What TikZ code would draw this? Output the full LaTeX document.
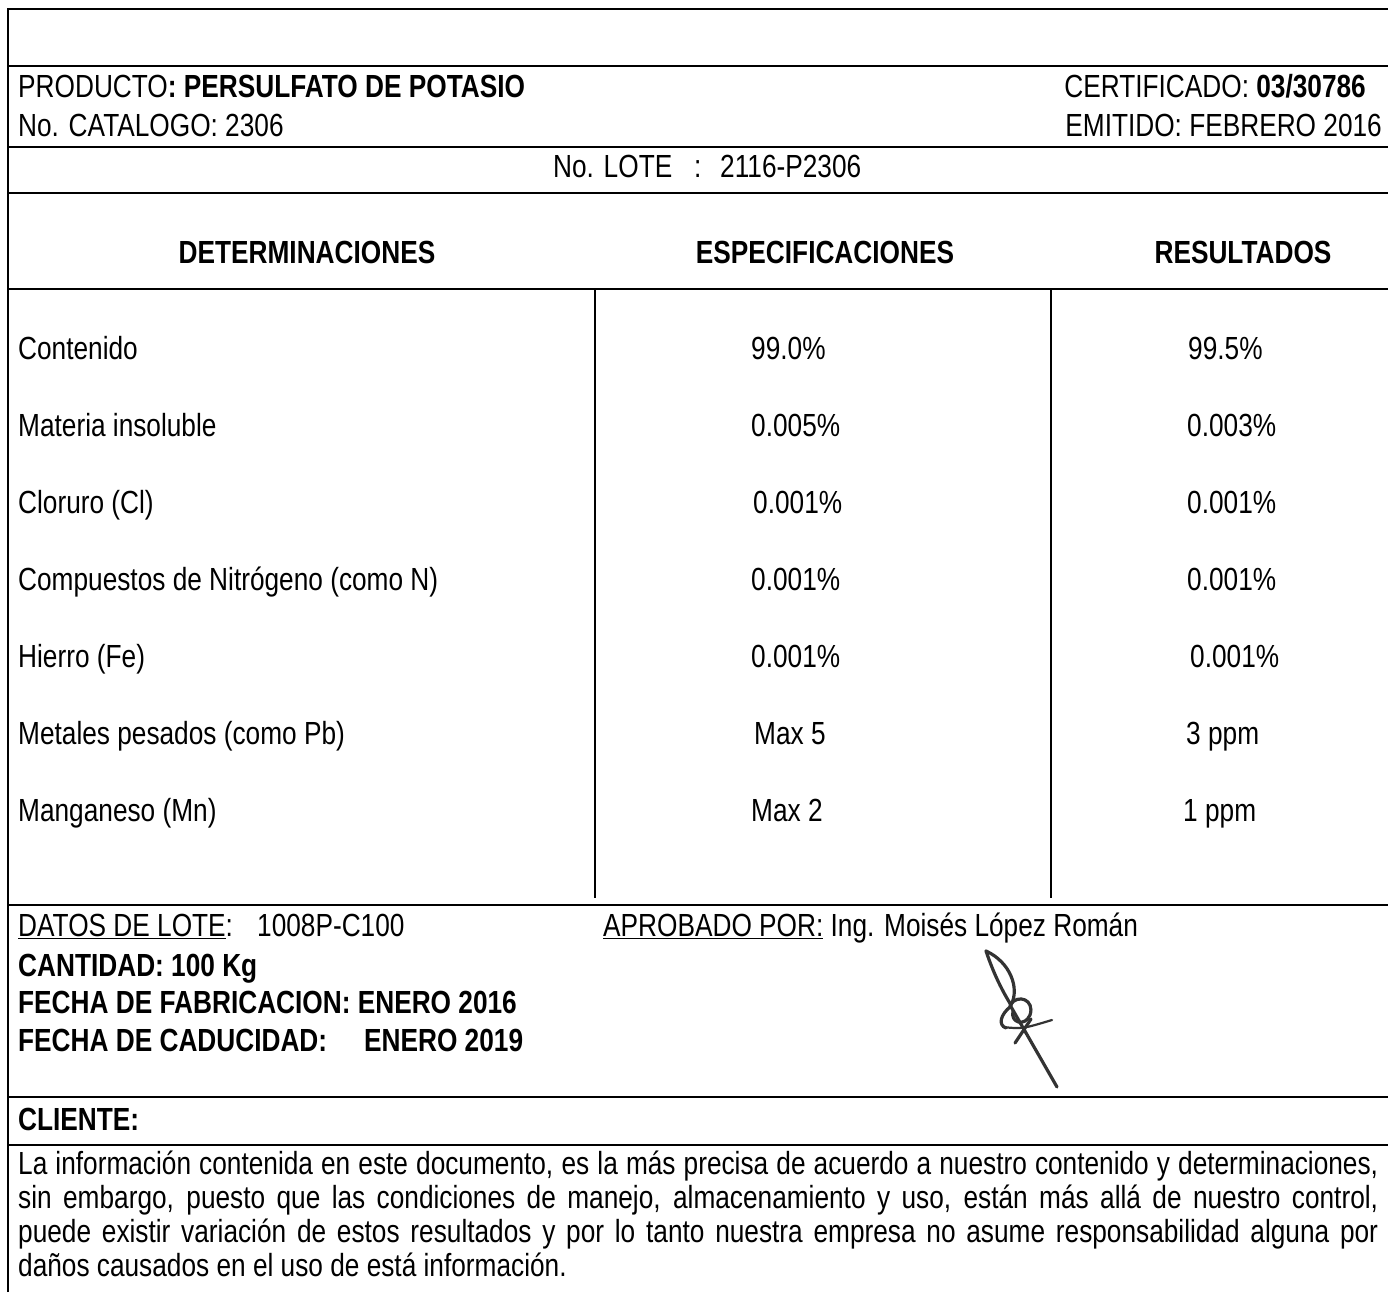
\documentclass[tikz,border=0pt]{standalone}
\usepackage{fontspec}
\setmainfont{Liberation Sans}[FakeStretch=0.82]
\newcommand\docfont{\fontsize{32}{34}\selectfont}
\begin{document}
\begin{tikzpicture}[x=1pt,y=-1pt,
  rule/.style={line width=2.7pt},
  coldiv/.style={line width=1.4pt},
  txt/.style={inner sep=0pt,anchor=base west,font=\docfont},
  txtc/.style={inner sep=0pt,anchor=base,font=\docfont},
  txte/.style={inner sep=0pt,anchor=base east,font=\docfont},
  sig/.style={line width=3.2pt,color=black!80,line cap=round,line join=round}]
\useasboundingbox (0,0) rectangle (1388,1292);
% frame and rules
\draw[rule] (8,1292) -- (8,9) -- (1388,9);
\foreach \yy in {66,147,193,289,905,1097,1145}
  \draw[rule] (7,\yy) -- (1388,\yy);
\draw[coldiv] (595,289) -- (595,898);
\draw[coldiv] (1051,289) -- (1051,898);
% header
\node[txt] (prod) at (18,98) {PRODUCTO\textbf{: PERSULFATO DE POTASIO}};
\node[txte] (cert) at (1366,98) {CERTIFICADO: \textbf{03/30786}};
\node[txt] (cat) at (18,137) {No. CATALOGO: 2306};
\node[txte] (emit) at (1382,137) {EMITIDO: FEBRERO 2016};
\node[txt] (lote) at (553,178) {\makebox[141pt][l]{No. LOTE}\makebox[26pt][l]{:}2116-P2306};
% column heads
\node[txtc] (hdet) at (307,263) {\textbf{DETERMINACIONES}};
\node[txtc] (hesp) at (825,263) {\textbf{ESPECIFICACIONES}};
\node[txtc] (hres) at (1243,263) {\textbf{RESULTADOS}};
% rows
\node[txt] (d1) at (18,359) {Contenido};
\node[txt] (d2) at (18,436) {Materia insoluble};
\node[txt] (d3) at (18,513) {Cloruro (Cl)};
\node[txt] (d4) at (18,590) {Compuestos de Nitrógeno (como N)};
\node[txt] (d5) at (18,667) {Hierro (Fe)};
\node[txt] (d6) at (18,744) {Metales pesados (como Pb)};
\node[txt] (d7) at (18,821) {Manganeso (Mn)};
\node[txt] (e1) at (751,359) {99.0\%};
\node[txt] (e2) at (751,436) {0.005\%};
\node[txt] (e3) at (753,513) {0.001\%};
\node[txt] (e4) at (751,590) {0.001\%};
\node[txt] (e5) at (751,667) {0.001\%};
\node[txt] (e6) at (754,744) {Max 5};
\node[txt] (e7) at (751,821) {Max 2};
\node[txt] (r1) at (1188,359) {99.5\%};
\node[txt] (r2) at (1187,436) {0.003\%};
\node[txt] (r3) at (1187,513) {0.001\%};
\node[txt] (r4) at (1187,590) {0.001\%};
\node[txt] (r5) at (1190,667) {0.001\%};
\node[txt] (r6) at (1186,744) {3 ppm};
\node[txt] (r7) at (1183,821) {1 ppm};
% lot data
\node[txt] (datos) at (18,936) {\makebox[239pt][l]{\underline{DATOS DE LOTE}:}1008P-C100};
\node[txt] (aprob) at (603,936) {\underline{APROBADO POR:} Ing. Moisés López Román};
\node[txt] (cant) at (18,976) {\textbf{CANTIDAD: 100 Kg}};
\node[txt] (fab) at (18,1013) {\textbf{FECHA DE FABRICACION: ENERO 2016}};
\node[txt] (cad) at (18,1051) {\textbf{\makebox[346pt][l]{FECHA DE CADUCIDAD:}ENERO 2019}};
% signature
\draw[sig] (986,951) .. controls (1010,962) and (1020,988) .. (1011,1005);
\draw[sig] (986,951) .. controls (994,975) and (1003,992) .. (1011,1005);
\draw[sig] (1010,1005) .. controls (1018,993) and (1035,1000) .. (1030,1015) .. controls (1025,1027) and (1010,1023) .. (1013,1011);
\draw[sig] (1011,1006) .. controls (1000,1015) and (998,1025) .. (1006,1028);
\draw[sig,line width=2.2pt] (1003,1027) .. controls (1022,1029) .. (1052,1020);
\draw[sig] (1010,1005) -- (1057,1087);
\draw[sig] (1031,1019) -- (1015,1043);
% client
\node[txt] (cli) at (18,1130) {\textbf{CLIENTE:}};
% disclaimer
\node[txt] (p1) at (18,1174) {\makebox[1360pt][s]{La información contenida en este documento, es la más precisa de acuerdo a nuestro contenido y determinaciones,}};
\node[txt] (p2) at (18,1208) {\makebox[1360pt][s]{sin embargo, puesto que las condiciones de manejo, almacenamiento y uso, están más allá de nuestro control,}};
\node[txt] (p3) at (18,1242) {\makebox[1360pt][s]{puede existir variación de estos resultados y por lo tanto nuestra empresa no asume responsabilidad alguna por}};
\node[txt] (p4) at (18,1276) {daños causados en el uso de está información.};
\end{tikzpicture}
\end{document}
